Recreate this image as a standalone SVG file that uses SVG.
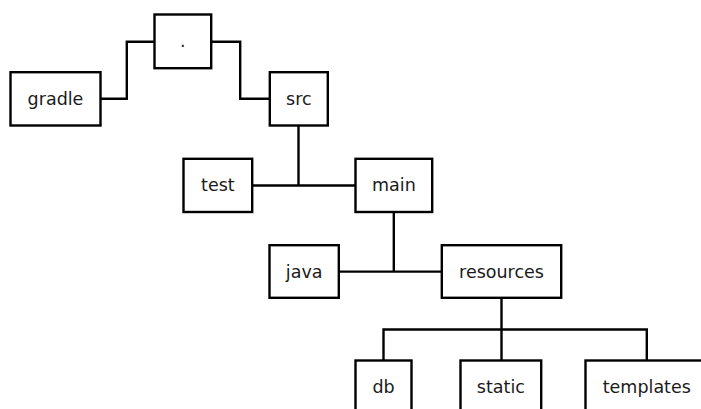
<svg xmlns="http://www.w3.org/2000/svg" width="701" height="409" viewBox="0 0 701 409">
  <style>
    .box { fill: #ffffff; stroke: #000000; stroke-width: 2.4; }
    .edge { fill: none; stroke: #000000; stroke-width: 2.4; stroke-linejoin: miter; }
    .label { font-family: "DejaVu Sans", "Liberation Sans", sans-serif; font-size: 17.5px; fill: #1a1a1a; text-anchor: middle; }
  </style>
  <rect width="701" height="409" fill="#ffffff"/>

  <!-- tree connectors -->
  <g id="connectors">
    <path class="edge" d="M100.5 98.8 H126.8 V41.8 H154.5"/>
    <path class="edge" d="M211.2 41.8 H240.2 V98.8 H269.8"/>
    <path class="edge" d="M298.5 125.5 V185.5"/>
    <path class="edge" d="M252.2 185.5 H355.5"/>
    <path class="edge" d="M393.8 211.8 V271.6"/>
    <path class="edge" d="M338.8 271.6 H441.8"/>
    <path class="edge" d="M501.5 297.8 V360.5"/>
    <path class="edge" d="M383.5 360.5 V329.5 H646.8 V360.5"/>
  </g>

  <g id="node-root">
    <rect class="box" x="154.5" y="14.5" width="56.7" height="53.7"/>
    <text class="label" x="182.9" y="47.3">.</text>
  </g>
  <g id="node-gradle">
    <rect class="box" x="10.5" y="72.2" width="90" height="53.3"/>
    <text class="label" x="55.5" y="104.8">gradle</text>
  </g>
  <g id="node-src">
    <rect class="box" x="269.8" y="72.2" width="58" height="53.3"/>
    <text class="label" x="298.8" y="104.8">src</text>
  </g>
  <g id="node-test">
    <rect class="box" x="183.5" y="158.8" width="68.7" height="53.2"/>
    <text class="label" x="217.9" y="191.4">test</text>
  </g>
  <g id="node-main">
    <rect class="box" x="355.5" y="158.8" width="76.7" height="53.2"/>
    <text class="label" x="393.9" y="191.4">main</text>
  </g>
  <g id="node-java">
    <rect class="box" x="269.5" y="245.2" width="69.3" height="52.6"/>
    <text class="label" x="304.2" y="277.5">java</text>
  </g>
  <g id="node-resources">
    <rect class="box" x="441.8" y="245.2" width="119.4" height="52.6"/>
    <text class="label" x="501.5" y="277.5">resources</text>
  </g>
  <g id="node-db">
    <rect class="box" x="355.5" y="360.5" width="56" height="53"/>
    <text class="label" x="383.5" y="393">db</text>
  </g>
  <g id="node-static">
    <rect class="box" x="460.5" y="360.5" width="80.7" height="53"/>
    <text class="label" x="500.9" y="393">static</text>
  </g>
  <g id="node-templates">
    <rect class="box" x="585.5" y="360.5" width="122.6" height="53"/>
    <text class="label" x="646.8" y="393">templates</text>
  </g>
</svg>
